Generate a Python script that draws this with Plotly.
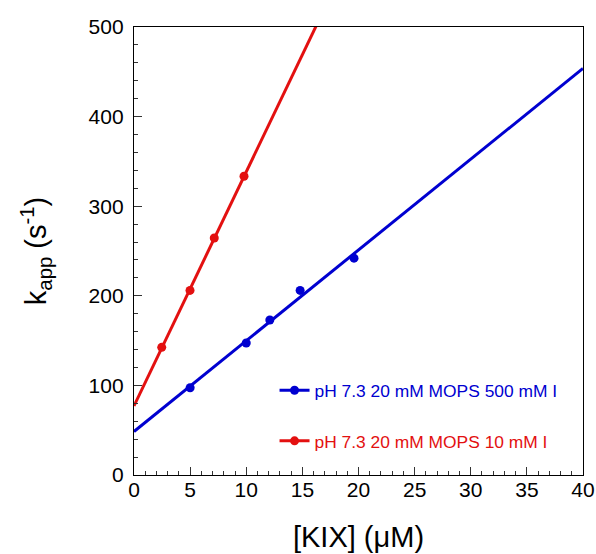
import numpy as np
import plotly.graph_objects as go

# Observed rate constants vs. KIX concentration
kix_high_salt = [5.0, 10.0, 12.1, 14.8, 19.6]
kapp_high_salt = [97.4, 147.3, 173.0, 206.0, 242.0]

kix_low_salt = [2.47, 4.99, 7.15, 9.8]
kapp_low_salt = [142.5, 206.0, 264.5, 333.4]

label_high_salt = "pH 7.3 20 mM MOPS 500 mM I"
label_low_salt = "pH 7.3 20 mM MOPS 10 mM I"

x_ticks = [0, 5, 10, 15, 20, 25, 30, 35, 40]
y_ticks = [0, 100, 200, 300, 400, 500]

BLUE = "#0000d0"
RED = "#e31010"

fig = go.Figure()

fit_x = np.array([0.0, 40.0])


def add_series(xs, ys, color, name):
    slope, intercept = np.polyfit(xs, ys, 1)
    # linear fit across the full concentration range
    fig.add_trace(go.Scatter(
        x=fit_x, y=slope * fit_x + intercept, mode="lines",
        line=dict(color=color, width=3), showlegend=False, hoverinfo="skip"))
    fig.add_trace(go.Scatter(
        x=xs, y=ys, mode="markers",
        marker=dict(color=color, size=9), showlegend=False))
    # legend entry: line with marker
    fig.add_trace(go.Scatter(
        x=[None], y=[None], mode="lines+markers",
        line=dict(color=color, width=3), marker=dict(color=color, size=9),
        name=f"<span style='color:{color}'>{name}</span>",
        legendgroup=name))


add_series(kix_high_salt, kapp_high_salt, BLUE, label_high_salt)
add_series(kix_low_salt, kapp_low_salt, RED, label_low_salt)

axis_common = dict(
    showgrid=False, zeroline=False, showline=True, linecolor="black",
    linewidth=1.3, mirror=True, ticks="inside", ticklen=8, tickwidth=1.2,
    tickcolor="#333", tickfont=dict(family="Liberation Sans, Arial", size=21, color="black"),
)

fig.update_xaxes(
    range=[0, 40], tickvals=x_ticks, minor=dict(dtick=1, ticks="inside", ticklen=4, tickcolor="#333"),
    ticklabelstandoff=-4,
    title=dict(text="[KIX] (\u03bcM)", font=dict(family="Liberation Sans, Arial", size=29, color="black"),
               standoff=26),
    automargin=False, **axis_common)
fig.update_yaxes(
    range=[0, 500], tickvals=y_ticks, minor=dict(dtick=20, ticks="inside", ticklen=4, tickcolor="#333"),
    ticklabelstandoff=5,
    title=dict(text="k<sub>app</sub> (s<sup>-1</sup>)",
               font=dict(family="Liberation Sans, Arial", size=29, color="black"), standoff=33),
    automargin=False, **axis_common)

fig.update_layout(
    width=596, height=554,
    margin=dict(l=134, r=13, t=27, b=79),
    plot_bgcolor="white", paper_bgcolor="white",
    legend=dict(x=0.313, y=0.229, xanchor="left", yanchor="top",
                bgcolor="rgba(0,0,0,0)", tracegroupgap=25,
                font=dict(family="Liberation Sans, Arial", size=17.4)),
)

fig.write_html("out.html")
